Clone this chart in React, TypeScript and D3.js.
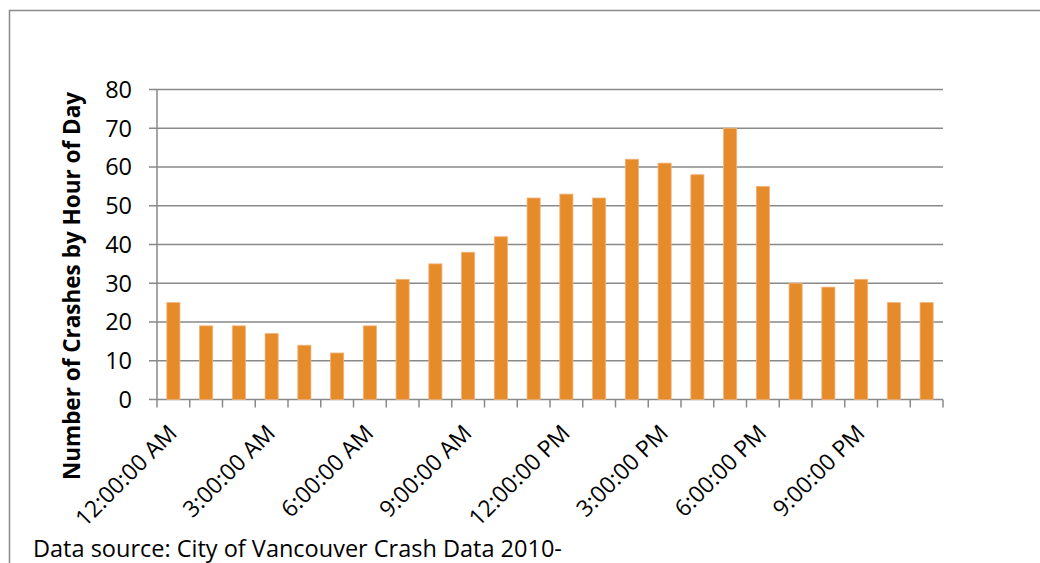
import React from "react";
import * as d3 from "d3";

const hours = [
  "12:00:00 AM", "1:00:00 AM", "2:00:00 AM", "3:00:00 AM", "4:00:00 AM", "5:00:00 AM",
  "6:00:00 AM", "7:00:00 AM", "8:00:00 AM", "9:00:00 AM", "10:00:00 AM", "11:00:00 AM",
  "12:00:00 PM", "1:00:00 PM", "2:00:00 PM", "3:00:00 PM", "4:00:00 PM", "5:00:00 PM",
  "6:00:00 PM", "7:00:00 PM", "8:00:00 PM", "9:00:00 PM", "10:00:00 PM", "11:00:00 PM",
];
const crashes = [25, 19, 19, 17, 14, 12, 19, 31, 35, 38, 42, 52, 53, 52, 62, 61, 58, 70, 55, 30, 29, 31, 25, 25];
const yTicks = [0, 10, 20, 30, 40, 50, 60, 70, 80];
const yTitle = "Number of Crashes by Hour of Day";
const sourceNote = "Data source: City of Vancouver Crash Data 2010-";

const W = 1040, H = 563;
const left = 157, right = 943, top = 89.5, bottom = 399.5;
const font = "'Open Sans', sans-serif";

export default function App() {
  const x = d3.scaleBand<string>().domain(hours).range([left, right]).paddingInner(0).paddingOuter(0);
  const y = d3.scaleLinear().domain([0, 80]).range([bottom, top]);
  const bw = x.bandwidth() / 2.5;
  const grid = "#898989";
  return (
    <svg width={W} height={H} style={{ position: "absolute", left: 0, top: 0, background: "#fff" }}>
      <rect x={9.5} y={10.5} width={1100} height={700} fill="#fff" stroke={grid} strokeWidth={1.5} />
      {yTicks.map((t) => (
        <g key={t}>
          <line x1={left - 8} x2={right} y1={y(t)} y2={y(t)} stroke={grid} strokeWidth={1.5} />
          <text x={132} y={y(t)} dy="0.36em" textAnchor="end" fontFamily={font} fontSize={23.5} fill="#000">{t}</text>
        </g>
      ))}
      <line x1={left} x2={left} y1={top} y2={bottom + 8} stroke={grid} strokeWidth={1.5} />
      {hours.map((h, i) => (
        <line key={"t" + i} x1={(x(h) as number) + x.bandwidth()} x2={(x(h) as number) + x.bandwidth()} y1={bottom} y2={bottom + 8} stroke={grid} strokeWidth={1.5} />
      ))}
      {hours.map((h, i) => {
        const cx = (x(h) as number) + x.bandwidth() / 2;
        return (
          <rect key={"b" + i} x={cx - bw / 2} y={y(crashes[i])} width={bw} height={bottom - y(crashes[i])}
            fill="#E68B29" stroke="#F2B27A" strokeWidth={0.8} />
        );
      })}
      {hours.map((h, i) => {
        if (i % 3 !== 0) return null;
        const cx = (x(h) as number) + x.bandwidth() / 2 + 5;
        const ty = bottom + 35;
        return (
          <text key={"l" + i} x={cx} y={ty} textAnchor="end" fontFamily={font} fontSize={23} fill="#000"
            transform={`rotate(-45 ${cx} ${ty})`}>{h}</text>
        );
      })}
      <text transform={`translate(80 ${(92 + 480) / 2}) rotate(-90)`} textAnchor="middle" fontFamily={font}
        fontWeight="bold" fontSize={22.5} fill="#000">{yTitle}</text>
      <text x={33} y={557} fontFamily={font} fontSize={23.5} fill="#000">{sourceNote}</text>
    </svg>
  );
}
